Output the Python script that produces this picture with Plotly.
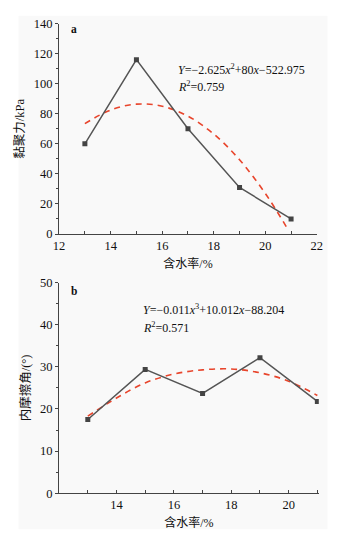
import plotly.graph_objects as go

# Chart a: cohesion vs water content
water_a = [13, 15, 17, 19, 21]
cohesion = [60, 116, 70, 31, 10]
fit_a_x = [13, 14, 15, 16, 17, 18, 19, 20, 20.9]
fit_a_y = [73.4, 82.5, 86.4, 85.0, 78.4, 66.5, 49.4, 27.0, 2.4]
ticks_a = [12, 14, 16, 18, 20, 22]

# Chart b: internal friction angle vs water content
water_b = [13, 15, 17, 19, 21]
friction = [17.5, 29.4, 23.7, 32.2, 21.8]
fit_b_x = [13, 14, 15, 16, 17, 18, 19, 20, 21]
fit_b_y = [18.3, 22.6, 26.2, 28.3, 29.3, 29.5, 28.6, 26.6, 23.2]
ticks_b = [14, 16, 18, 20]

eq_a = "<i>Y</i>=−2.625<i>x</i><sup>2</sup>+80<i>x</i>−522.975"
r2_a = "<i>R</i><sup>2</sup>=0.759"
eq_b = "<i>Y</i>=−0.011<i>x</i><sup>3</sup>+10.012<i>x</i>−88.204"
r2_b = "<i>R</i><sup>2</sup>=0.571"

W, H = 347, 544
FONT = "Liberation Serif, Noto Sans CJK SC, serif"
LINE_C = "#555555"
AX_C = "#444444"
RED = "#e8452c"
TXT = "#111111"

fig = go.Figure()
fig.add_trace(go.Scatter(x=fit_a_x, y=fit_a_y, mode="lines", line=dict(color=RED, width=1.6, dash="6px,5px", shape="spline"),
                         xaxis="x", yaxis="y", showlegend=False))
fig.add_trace(go.Scatter(x=water_a, y=cohesion, mode="lines+markers", line=dict(color=LINE_C, width=1.5),
                         marker=dict(symbol="square", size=5, color="#444444"),
                         xaxis="x", yaxis="y", showlegend=False))
fig.add_trace(go.Scatter(x=fit_b_x, y=fit_b_y, mode="lines", line=dict(color=RED, width=1.6, dash="6px,5px", shape="spline"),
                         xaxis="x2", yaxis="y2", showlegend=False))
fig.add_trace(go.Scatter(x=water_b, y=friction, mode="lines+markers", line=dict(color=LINE_C, width=1.5),
                         marker=dict(symbol="square", size=5, color="#444444"),
                         xaxis="x2", yaxis="y2", showlegend=False))

def xa(dom, rng, anchor, tv):
    return dict(domain=dom, range=rng, anchor=anchor, showline=True, linecolor=AX_C, linewidth=1.2,
                showgrid=False, zeroline=False, ticks="inside", ticklen=3, tickcolor=AX_C,
                tickmode="array", tickvals=tv,
                minor=dict(ticks="inside", ticklen=3, dtick=1, tick0=12, tickcolor=AX_C),
                tickfont=dict(family=FONT, size=12.5, color=TXT),
                title=dict(text="含水率/%", font=dict(family=FONT, size=12, color=TXT), standoff=7))

def ya(dom, rng, dt, anchor, title):
    return dict(domain=dom, range=rng, anchor=anchor, showline=True, linecolor=AX_C, linewidth=1.2,
                showgrid=False, zeroline=False, ticks="outside", ticklen=3, tickcolor=AX_C, dtick=dt,
                minor=dict(ticks="outside", ticklen=2, dtick=dt / 2, tickcolor=AX_C),
                tickfont=dict(family=FONT, size=12.5, color=TXT),
                title=dict(text=title, font=dict(family=FONT, size=12.5, color=TXT), standoff=6))

fig.update_layout(
    width=W, height=H, margin=dict(l=0, r=0, t=0, b=0),
    paper_bgcolor="white", plot_bgcolor="rgba(0,0,0,0)",
    xaxis=xa([55 / W, 322 / W], [12, 22], "y", ticks_a),
    yaxis=ya([(H - 233) / H, (H - 17) / H], [0, 140], 20, "x", "黏聚力/kPa"),
    xaxis2=xa([55 / W, 324 / W], [12, 21.05], "y2", ticks_b),
    yaxis2=ya([(H - 499) / H, (H - 283) / H], [0, 50], 10, "x2", "内摩擦角/(°)"),
    shapes=[dict(type="rect", xref="paper", yref="paper", x0=13 / W, x1=333 / W, y0=(H - 536) / H, y1=(H - 9) / H,
                 fillcolor="#f9f9f9", line=dict(width=0), layer="below")],
    annotations=[
        dict(text="<b>a</b>", x=65 / W, y=(H - 23) / H, xref="paper", yref="paper", xanchor="left", yanchor="middle",
             showarrow=False, font=dict(family=FONT, size=11.5, color=TXT)),
        dict(text="<b>b</b>", x=65 / W, y=(H - 292) / H, xref="paper", yref="paper", xanchor="left", yanchor="middle",
             showarrow=False, font=dict(family=FONT, size=11.5, color=TXT)),
        dict(text=eq_a, x=176 / W, y=(H - 64) / H, xref="paper", yref="paper", xanchor="left", yanchor="middle",
             showarrow=False, font=dict(family=FONT, size=12, color=TXT)),
        dict(text=r2_a, x=176 / W, y=(H - 82) / H, xref="paper", yref="paper", xanchor="left", yanchor="middle",
             showarrow=False, font=dict(family=FONT, size=12, color=TXT)),
        dict(text=eq_b, x=140 / W, y=(H - 311) / H, xref="paper", yref="paper", xanchor="left", yanchor="middle",
             showarrow=False, font=dict(family=FONT, size=12, color=TXT)),
        dict(text=r2_b, x=140 / W, y=(H - 329) / H, xref="paper", yref="paper", xanchor="left", yanchor="middle",
             showarrow=False, font=dict(family=FONT, size=12, color=TXT)),
    ],
)

fig.write_html("out.html")
